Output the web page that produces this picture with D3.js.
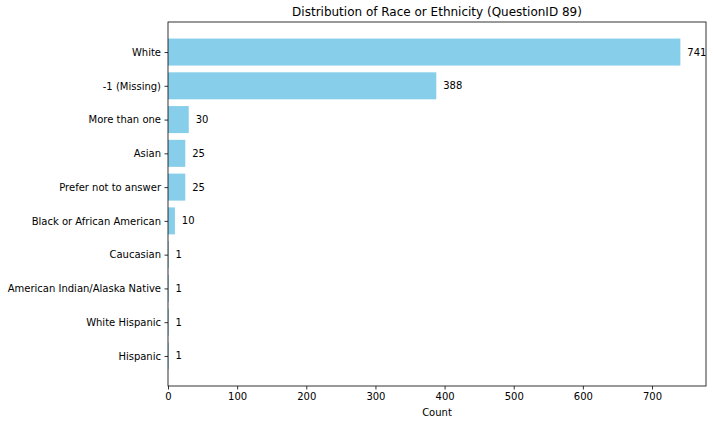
<!DOCTYPE html>
<html>
<head>
<meta charset="utf-8">
<script src="https://cdn.jsdelivr.net/npm/d3@7"></script>
<style>
  body { margin: 0; background: #fff; }
  text { font-family: "DejaVu Sans", sans-serif; }
</style>
</head>
<body>
<svg width="713" height="424"></svg>
<script>
const categories = ["White", "-1 (Missing)", "More than one", "Asian", "Prefer not to answer",
                    "Black or African American", "Caucasian", "American Indian/Alaska Native",
                    "White Hispanic", "Hispanic"];
const counts = [741, 388, 30, 25, 25, 10, 1, 1, 1, 1];
const xTicks = [0, 100, 200, 300, 400, 500, 600, 700];

const margin = {top: 22, right: 7, bottom: 38, left: 168};
const width = 713 - margin.left - margin.right,
      height = 424 - margin.top - margin.bottom;

const svg = d3.select("svg");
const g = svg.append("g")
    .attr("transform", `translate(${margin.left}, ${margin.top})`);

// x scale, matplotlib style 5% margin on the right
const xMax = d3.max(counts) * 1.05;
const x = d3.scaleLinear()
    .domain([0, xMax])
    .range([0, width]);

// y positions: bar index, top is first category
const n = categories.length;
const y = d3.scaleLinear()
    .domain([-0.4 - 0.49, n - 1 + 0.4 + 0.49])
    .range([0, height]);
const barH = y(0.8) - y(0);

const data = categories.map((c, i) => ({cat: c, count: counts[i], i: i}));

g.selectAll("rect.bar").data(data)
  .enter().append("rect")
    .attr("class", "bar")
    .attr("x", x(0))
    .attr("y", d => y(d.i) - barH / 2)
    .attr("width", d => x(d.count) - x(0))
    .attr("height", barH)
    .attr("fill", "skyblue");

// value labels
g.selectAll("text.val").data(data)
  .enter().append("text")
    .attr("class", "val")
    .attr("x", d => x(d.count + 10))
    .attr("y", d => y(d.i))
    .attr("dy", "0.35em")
    .attr("font-size", "10px")
    .attr("fill", "#000")
    .text(d => d.count);

// X axis
const xAxis = g.append("g")
    .attr("transform", `translate(0, ${height})`)
    .call(d3.axisBottom(x).tickValues(xTicks).tickSize(3.5).tickPadding(3.5).tickSizeOuter(0));
xAxis.select(".domain").remove();
xAxis.selectAll("text").attr("font-size", "10px").attr("font-family", "DejaVu Sans").attr("fill", "#000");
xAxis.selectAll("line").attr("stroke", "#000").attr("stroke-width", 0.8);

// Y axis
const yAxis = g.append("g")
    .call(d3.axisLeft(y).tickValues(d3.range(n)).tickFormat(i => categories[i])
      .tickSize(3.5).tickPadding(3.5).tickSizeOuter(0));
yAxis.select(".domain").remove();
yAxis.selectAll("text").attr("font-size", "10px").attr("font-family", "DejaVu Sans").attr("fill", "#000");
yAxis.selectAll("line").attr("stroke", "#000").attr("stroke-width", 0.8);

// frame
g.append("rect")
    .attr("x", 0).attr("y", 0)
    .attr("width", width).attr("height", height)
    .attr("fill", "none")
    .attr("stroke", "#000")
    .attr("stroke-width", 0.8);

// title
g.append("text")
    .attr("x", width / 2)
    .attr("y", -6)
    .attr("font-size", "12px")
    .attr("text-anchor", "middle")
    .text("Distribution of Race or Ethnicity (QuestionID 89)");

// X label
g.append("text")
    .attr("x", width / 2)
    .attr("y", height + 30)
    .attr("font-size", "10px")
    .attr("text-anchor", "middle")
    .text("Count");
</script>
</body>
</html>
